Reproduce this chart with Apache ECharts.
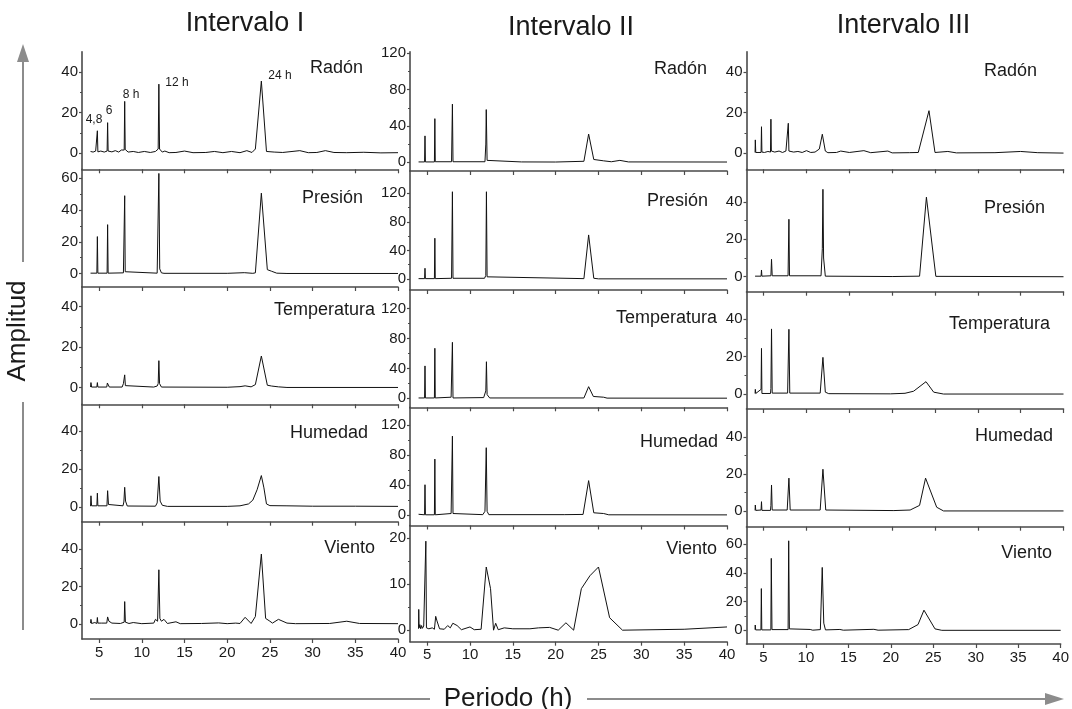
<!DOCTYPE html>
<html>
<head>
<meta charset="utf-8">
<script src="https://cdn.jsdelivr.net/npm/echarts@6/dist/echarts.min.js"></script>
<style>html,body{margin:0;padding:0;background:#fff}#c{width:1072px;height:709px}</style>
</head>
<body>
<div id="c"></div>
<script>
// ---------------- DATA ----------------
const intervalTitles = ['Intervalo I', 'Intervalo II', 'Intervalo III'];
const seriesNames = ['Radón', 'Presión', 'Temperatura', 'Humedad', 'Viento'];
const xTicks = [5, 10, 15, 20, 25, 30, 35, 40];
const yTicksI = [[0, 20, 40], [0, 20, 40, 60], [0, 20, 40], [0, 20, 40], [0, 20, 40]];
const yTicksII = [[0, 40, 80, 120], [0, 40, 80, 120], [0, 40, 80, 120], [0, 40, 80, 120], [0, 10, 20]];
const yTicksIII = [[0, 20, 40], [0, 20, 40], [0, 20, 40], [0, 20, 40], [0, 20, 40, 60]];
const peakLabels = ['4,8', '6', '8 h', '12 h', '24 h'];

// Intervalo I
const radonI = [[4.0,0.8],[4.3,0.5],[4.6,1],[4.74,0.6],[4.8,11],[4.86,0.6],[5.2,1],[5.6,0.5],[5.94,1],[6.0,15],[6.06,1],[6.5,0.6],[6.9,1.2],[7.3,0.5],[7.6,1.5],[7.94,1.5],[8.0,25.5],[8.06,1.8],[8.4,0.5],[9,0.8],[9.6,0.3],[10.3,0.8],[11,0.3],[11.6,0.8],[11.92,2],[12.0,34],[12.08,2],[12.4,0.5],[12.7,1],[13.2,0.2],[14,0.3],[15,1],[16,0.2],[17.5,0.3],[18.5,0.8],[19.5,0.2],[20.5,0.8],[21.5,0.2],[22.3,1.2],[22.9,0.3],[23.3,2],[24.0,35.5],[24.6,0.8],[25.5,0.5],[26.5,0.3],[28.5,1.2],[29.5,0.2],[30.5,0.3],[31.5,1.2],[32.5,0.3],[34,0.2],[36,0.4],[38,0.1],[40,0.2]];
const presionI = [[4.0,0.3],[4.74,0.3],[4.8,23.3],[4.86,0.3],[5.94,0.3],[6.0,30.8],[6.06,0.3],[7.85,0.5],[7.94,1.2],[8.0,49],[8.06,1.2],[8.15,0.3],[11.8,0.3],[11.92,1.5],[12.0,63],[12.1,3],[12.3,0.5],[12.6,0.2],[20,0.2],[22,0.6],[23.0,0.2],[23.3,0.5],[24.0,50.6],[24.7,2.5],[25.2,1.5],[25.8,0.3],[27,0.1],[40,0.1]];
const tempI = [[4.0,0.3],[4.05,2.5],[4.12,0.3],[4.74,0.3],[4.8,2.5],[4.86,0.3],[5.9,0.3],[5.97,2.3],[6.1,1.5],[6.2,0.3],[7.7,0.3],[7.85,2],[7.94,1.5],[8.0,6.3],[8.08,1],[8.2,0.3],[11.4,0.3],[11.6,1.2],[11.8,0.8],[11.92,2],[12.0,13.3],[12.08,2],[12.3,0.3],[20,0.2],[21.5,0.5],[22.1,0.9],[22.8,0.4],[23.3,1.5],[24.0,15.6],[24.7,1.2],[25.2,0.8],[26,0.4],[27,0.1],[40,0.1]];
const humedadI = [[4.0,0.3],[4.05,5.8],[4.12,0.5],[4.74,0.5],[4.8,7.2],[4.86,0.5],[5.92,0.5],[6.0,8.5],[6.1,1.2],[6.25,0.3],[7.8,0.5],[7.9,2.5],[8.0,10.3],[8.1,3],[8.3,0.4],[11.6,0.3],[11.8,2],[12.0,16],[12.15,3],[12.4,0.8],[13,0.2],[20,0.2],[21.5,0.5],[22.5,1.5],[23.0,3.5],[23.5,9],[24.0,16.5],[24.3,10],[24.6,1.5],[25,0.6],[27,0.5],[30,0.3],[35,0.3],[40,0.2]];
const vientoI = [[4.0,0.5],[4.05,2.5],[4.12,0.3],[4.5,0.8],[4.74,0.3],[4.8,3.5],[4.86,0.5],[5.3,0.5],[5.9,0.5],[6.0,3.8],[6.15,1.5],[6.5,0.5],[7.5,0.3],[7.94,1],[8.0,12],[8.08,1],[8.5,0.3],[9,0.8],[10,0.2],[11.4,0.5],[11.6,2.5],[11.85,1.5],[12.0,29],[12.12,3],[12.3,1.5],[12.6,2.5],[13.0,0.3],[14,1.2],[14.5,0.2],[17,0.3],[19,0.6],[20,0.2],[21,0.5],[21.5,0.3],[22.1,3.6],[22.8,0.3],[23.3,4],[24.0,37.4],[24.5,3],[25.0,1.5],[25.3,0.5],[26.0,2.5],[27,0.5],[28,0.2],[32,0.3],[34,1.5],[35.5,0.3],[40,0.2]];

// Intervalo II
const radonII = [[4.0,0.3],[4.7,0.3],[4.75,29],[4.8,0.3],[5.85,0.3],[5.9,48],[5.95,0.5],[7.85,0.5],[7.95,64],[8.02,0.5],[11.75,0.5],[11.85,20],[11.9,58],[12.0,2],[12.2,0.5],[16,0.3],[20,0.2],[23.3,1],[23.85,31],[24.45,3],[25.6,1.5],[26.5,0.5],[27.5,2],[28.5,0.3],[40,0.2]];
const presionII = [[4.0,0.5],[4.7,0.5],[4.75,15],[4.8,0.5],[5.85,0.5],[5.9,57],[5.95,0.5],[7.85,1],[7.95,122],[8.02,1],[11.7,1],[11.85,5],[11.92,122],[12.0,3],[12.2,0.5],[23.3,0.5],[23.85,61.6],[24.45,1],[25,0.2],[40,0.2]];
const tempII = [[4.0,0.5],[4.7,0.5],[4.75,43.4],[4.8,0.5],[5.85,0.5],[5.9,67],[5.95,0.5],[7.8,1.5],[7.95,75],[8.02,0.5],[11.6,1],[11.85,10],[11.92,49],[12.0,5],[12.3,0.5],[23.3,0.5],[23.85,15.6],[24.4,2.5],[25.6,1.5],[26,0.3],[40,0.2]];
const humedadII = [[4.0,1],[4.2,0.3],[4.7,0.3],[4.75,40.5],[4.8,0.3],[5.85,0.3],[5.9,74.8],[5.95,0.3],[7.8,2],[7.95,105.5],[8.02,2],[8.2,0.3],[11.5,0.5],[11.75,5],[11.9,90],[12.0,5],[12.2,0.5],[21,0.5],[23.2,0.8],[23.85,46],[24.45,3],[25.6,2],[26.2,0.3],[40,0.2]];
const vientoII = [[4.0,0.3],[4.02,4.5],[4.06,0.5],[4.15,1.2],[4.25,0.3],[4.35,1],[4.45,0.4],[4.6,0.9],[4.78,0.5],[4.85,19.3],[4.92,0.5],[5.2,0.3],[5.6,0.5],[5.85,0.2],[6.0,3],[6.15,2],[6.3,2.2],[6.45,0.3],[7.0,0.2],[7.4,1],[7.7,0.5],[8.0,1.5],[8.5,1],[9.0,0.1],[10.0,0.7],[10.5,0.1],[11.3,0.2],[11.9,13.7],[12.4,9],[12.75,0],[13.0,1.5],[13.3,0.1],[14,0.5],[15,0.3],[17,0.3],[18,0.5],[19.3,0.6],[20.3,0],[21.2,1.6],[22.1,0],[23.0,9],[24.0,11.8],[25.0,13.7],[26.3,2.7],[27.8,0],[35,0.2],[40,0.7]];

// Intervalo III
const radonIII = [[4.0,0.3],[4.03,6.5],[4.08,0.3],[4.7,0.3],[4.75,13],[4.8,0.5],[5.1,0.3],[5.5,0.8],[5.8,0.5],[5.85,16.7],[5.9,1],[6.3,0.5],[6.8,1],[7.2,0.3],[7.6,1],[7.8,1.5],[7.88,14.7],[7.95,1],[8.5,0.5],[9,0.8],[9.5,0.3],[10,1.2],[10.5,0.3],[11,0.5],[11.5,2],[11.85,9.3],[12.2,1],[12.5,0.2],[13.5,0.3],[14,1],[15,0.3],[16.7,1.2],[17.5,0.2],[19.5,1],[20,0.1],[22,0.2],[23.05,0.3],[24.3,20.9],[25.0,0.3],[26.5,0.8],[27.5,0.1],[32,0.2],[35,0.8],[37,0.2],[40,0]];
const presionIII = [[4.0,0.3],[4.05,1],[4.1,0.2],[4.7,0.3],[4.75,3.6],[4.8,0.3],[5.85,0.5],[5.92,9.3],[6.0,0.5],[7.85,0.5],[7.95,30.7],[8.02,0.5],[11.7,0.5],[11.85,15],[11.92,46.7],[12.0,10],[12.2,0.3],[20,0.1],[23.2,0.3],[24.0,42.5],[25.1,0.2],[40,0]];
const tempIII = [[4.0,0.3],[4.03,2.5],[4.08,0.3],[4.7,2.5],[4.75,24.4],[4.8,0.3],[5.8,0.3],[5.85,3],[5.92,34.8],[6.0,0.5],[7.8,0.5],[7.95,34.6],[8.05,0.5],[11.6,0.5],[11.92,19.6],[12.2,1],[12.4,1.5],[12.6,0.2],[19.8,0.1],[21.5,0.4],[22.5,1.5],[23.95,6.6],[24.85,1],[26,0],[40,0]];
const humedadIII = [[4.0,0.3],[4.03,3.2],[4.08,0.3],[4.7,0.5],[4.75,5],[4.8,0.3],[5.8,0.3],[5.85,3],[5.92,14],[6.0,0.5],[7.75,0.5],[7.95,17.7],[8.1,0.5],[11.6,0.5],[11.92,22.5],[12.25,0.5],[20.2,0.2],[22.1,0.5],[23.2,3],[23.9,17.7],[25.2,2],[26,0],[40,0]];
const vientoIII = [[4.0,0.5],[4.03,3.7],[4.08,0.3],[4.7,0.3],[4.75,29],[4.8,0.3],[5.87,0.3],[5.92,50],[6.0,0.5],[7.9,0.5],[7.97,62.2],[8.05,1],[8.2,0.3],[10.5,0.6],[10.8,0.1],[11.7,0.5],[11.92,43.7],[12.1,5],[12.3,0.3],[14,0.6],[14.4,0.1],[18,0.7],[18.5,0.1],[22.1,0.5],[23.2,4],[23.9,14],[25.2,1],[26,0],[40,0]];

const dataCols = [
  [radonI, presionI, tempI, humedadI, vientoI],
  [radonII, presionII, tempII, humedadII, vientoII],
  [radonIII, presionIII, tempIII, humedadIII, vientoIII]
];
const yTickCols = [yTicksI, yTicksII, yTicksIII];

// ---------------- LAYOUT / STYLE ----------------
const FONT = '"Liberation Sans", Arial, Helvetica, sans-serif';
const colLeft = [82, 410, 746.5];
const colWidth = [316, 317, 317];
const rowEdges = [
  [51.7, 169.3, 287, 404.3, 521.7, 639],
  [51.7, 171, 290, 407.3, 525.5, 641.7],
  [51.7, 169.3, 291.7, 409, 526.7, 644]
];
const yRanges = [
  [[-8, 50], [-8.4, 65.6], [-8.2, 49.6], [-7.9, 54.2], [-8, 54.7]],
  [[-9.7, 121.8], [-15.4, 151], [-12, 145], [-14, 144], [-2.5, 22.7]],
  [[-8, 50], [-8, 57.4], [-8, 54.7], [-8.5, 55], [-9.5, 72]]
];
const xRange = [3, 40];
const namePos = [
  [[363, 68], [363, 198], [375, 310.5], [368, 433], [375, 548]],
  [[707, 69.5], [708, 201], [717, 318], [718, 442], [717, 549.5]],
  [[1037, 71], [1045, 207.7], [1050, 324.5], [1053, 436], [1052, 553]]
];
const titlePos = [[245, 24], [571, 28], [903.5, 26]];
const peakLabelPos = [[94, 119.5], [109, 110.5], [131, 94.5], [177, 82.5], [280, 75.5]];

const axisColor = '#4a4a4a';
const textColor = '#1a1a1a';
const arrowColor = '#8c8c8c';

const grids = [], xAxes = [], yAxes = [], minorYAxes = [], series = [], graphics = [];
let gi = 0;
for (let c = 0; c < 3; c++) {
  for (let r = 0; r < 5; r++) {
    const top = rowEdges[c][r], bottom = rowEdges[c][r + 1];
    grids.push({ left: colLeft[c], width: colWidth[c], top: top, height: bottom - top });
    xAxes.push({
      type: 'value', gridIndex: gi, min: xRange[0], max: xRange[1], position: 'bottom',
      axisLine: { show: true, onZero: false, lineStyle: { color: axisColor, width: 1.6 } },
      axisTick: { show: true, customValues: xTicks, length: 4, lineStyle: { color: axisColor, width: 1.2 } },
      axisLabel: { show: r === 4, customValues: xTicks, fontSize: 15, color: textColor, fontFamily: FONT, margin: 6 },
      splitLine: { show: false }
    });
    const ticks = yTickCols[c][r];
    yAxes.push({
      type: 'value', gridIndex: gi, min: yRanges[c][r][0], max: yRanges[c][r][1], position: 'left',
      axisLine: { show: true, onZero: false, lineStyle: { color: axisColor, width: 1.6 } },
      axisTick: { show: true, customValues: ticks, length: 3, lineStyle: { color: axisColor, width: 1.2 } },
      axisLabel: { customValues: ticks, fontSize: 15, color: textColor, fontFamily: FONT, margin: 4 },
      splitLine: { show: false }
    });
    const minor = [];
    for (let k = 0; k < ticks.length - 1; k++) minor.push((ticks[k] + ticks[k + 1]) / 2);
    minorYAxes.push({
      type: 'value', gridIndex: gi, min: yRanges[c][r][0], max: yRanges[c][r][1], position: 'left', offset: 0,
      axisLine: { show: false, onZero: false },
      axisTick: { show: true, customValues: minor, length: 2, lineStyle: { color: axisColor, width: 1 } },
      axisLabel: { show: false },
      splitLine: { show: false }
    });
    series.push({
      type: 'line', xAxisIndex: gi, yAxisIndex: gi, data: dataCols[c][r],
      showSymbol: false, symbol: 'none', silent: true,
      lineStyle: { color: '#111', width: 1 }
    });
    graphics.push({
      type: 'text', silent: true,
      style: { text: seriesNames[r], x: namePos[c][r][0], y: namePos[c][r][1], align: 'right', verticalAlign: 'middle',
        font: '18px ' + FONT, fill: textColor }
    });
    gi++;
  }
  graphics.push({
    type: 'text', silent: true,
    style: { text: intervalTitles[c], x: titlePos[c][0], y: titlePos[c][1], align: 'center', verticalAlign: 'middle',
      font: '27px ' + FONT, fill: textColor }
  });
}
peakLabels.forEach((t, i) => {
  graphics.push({
    type: 'text', silent: true,
    style: { text: t, x: peakLabelPos[i][0], y: peakLabelPos[i][1], align: 'center', verticalAlign: 'middle',
      font: '12px ' + FONT, fill: textColor }
  });
});
// axis titles and arrows
graphics.push(
  { type: 'line', silent: true, shape: { x1: 23, y1: 60, x2: 23, y2: 262 }, style: { stroke: arrowColor, lineWidth: 2 } },
  { type: 'polygon', silent: true, shape: { points: [[17, 62], [29, 62], [23, 44]] }, style: { fill: arrowColor } },
  { type: 'text', silent: true, x: 18, y: 331, rotation: Math.PI / 2,
    style: { text: 'Amplitud', x: 0, y: 0, align: 'center', verticalAlign: 'middle', font: '26px ' + FONT, fill: textColor } },
  { type: 'line', silent: true, shape: { x1: 23, y1: 402, x2: 23, y2: 630 }, style: { stroke: arrowColor, lineWidth: 2 } },
  { type: 'line', silent: true, shape: { x1: 90, y1: 699, x2: 430, y2: 699 }, style: { stroke: arrowColor, lineWidth: 2 } },
  { type: 'text', silent: true,
    style: { text: 'Periodo (h)', x: 508, y: 699, align: 'center', verticalAlign: 'middle', font: '26px ' + FONT, fill: textColor } },
  { type: 'line', silent: true, shape: { x1: 587, y1: 699, x2: 1047, y2: 699 }, style: { stroke: arrowColor, lineWidth: 2 } },
  { type: 'polygon', silent: true, shape: { points: [[1045, 693], [1045, 705], [1064, 699]] }, style: { fill: arrowColor } }
);

const chart = echarts.init(document.getElementById('c'), null, { renderer: 'canvas' });
chart.setOption({
  animation: false,
  backgroundColor: '#ffffff',
  grid: grids,
  xAxis: xAxes,
  yAxis: yAxes.concat(minorYAxes),
  series: series,
  graphic: graphics
});
</script>
</body>
</html>
